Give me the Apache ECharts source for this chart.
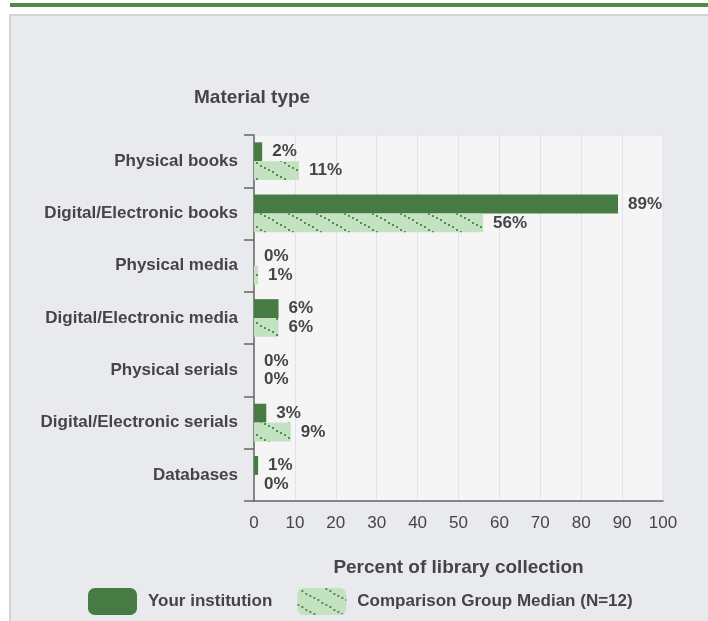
<!DOCTYPE html>
<html>
<head>
<meta charset="utf-8">
<style>
  html, body { margin: 0; padding: 0; background: #fff; }
  #main { width: 708px; height: 621px; }
</style>
<script src="https://cdn.jsdelivr.net/npm/echarts@6/dist/echarts.min.js"></script>
</head>
<body>
<div id="main"></div>
<script>
// 数据
const categories = [
  'Physical books',
  'Digital/Electronic books',
  'Physical media',
  'Digital/Electronic media',
  'Physical serials',
  'Digital/Electronic serials',
  'Databases'
]
const institutionValues = [2, 89, 0, 6, 0, 3, 1]
const comparisonValues = [11, 56, 1, 6, 0, 9, 0]
const xTicks = { min: 0, max: 100, interval: 10 }

const textColor = '#454545'
const fontFamily = '"Liberation Sans", Arial, sans-serif'

// 斜线点状填充
function makePattern() {
  const c = document.createElement('canvas')
  c.width = 28
  c.height = 16
  const ctx = c.getContext('2d')
  ctx.fillStyle = '#c4e2c2'
  ctx.fillRect(0, 0, 28, 16)
  ctx.fillStyle = '#4a9447'
  for (let x = 0; x < 28; x += 4) {
    const y = Math.round(x * 16 / 28)
    ctx.fillRect(x, y, 2, 2)
  }
  return c
}

const chart = echarts.init(document.getElementById('main'))
const option = {
  backgroundColor: '#fff',
  animation: false,
  textStyle: { fontFamily: fontFamily },
  graphic: [
    {
      type: 'rect',
      z: -10,
      silent: true,
      shape: { x: 10, y: 15, width: 710, height: 620 },
      style: { fill: '#e9eaee', stroke: '#d2d3d6', lineWidth: 2 }
    },
    {
      type: 'rect',
      z: -10,
      silent: true,
      shape: { x: 10, y: 3, width: 698, height: 4 },
      style: { fill: '#4e8a49' }
    }
  ],
  title: {
    text: 'Material type',
    left: 194,
    top: 88,
    padding: 0,
    textStyle: { fontSize: 19, fontWeight: 'bold', color: textColor, fontFamily: fontFamily }
  },
  legend: {
    left: 88,
    top: 588,
    padding: 0,
    itemWidth: 49,
    itemHeight: 27,
    itemGap: 25,
    icon: 'roundRect',
    textStyle: { fontSize: 17, fontWeight: 'bold', color: textColor, padding: [0, 0, 0, 6] },
    data: ['Your institution', 'Comparison Group Median (N=12)']
  },
  grid: {
    left: 254,
    right: 45,
    top: 135,
    bottom: 120,
    show: true,
    backgroundColor: '#f5f5f5',
    borderWidth: 1,
    borderColor: '#e2e5ec'
  },
  xAxis: {
    type: 'value',
    min: xTicks.min,
    max: xTicks.max,
    interval: xTicks.interval,
    name: 'Percent of library collection',
    nameLocation: 'middle',
    nameGap: 57,
    nameTextStyle: { fontSize: 19, fontWeight: 'bold', color: textColor },
    axisLine: { show: true, lineStyle: { color: '#666', width: 1.5 } },
    axisTick: { show: false },
    axisLabel: { margin: 14, fontSize: 17, color: textColor },
    splitLine: { show: true, lineStyle: { color: '#dce3f1', width: 1 } }
  },
  yAxis: {
    type: 'category',
    inverse: true,
    data: categories,
    axisLine: { show: true, lineStyle: { color: '#666', width: 1.5 } },
    axisTick: { show: true, length: 10, lineStyle: { color: '#666', width: 1.5 } },
    axisLabel: { margin: 16, fontSize: 17, fontWeight: 'bold', color: textColor },
    splitLine: { show: false }
  },
  series: [
    {
      name: 'Your institution',
      type: 'bar',
      barGap: '0%',
      barCategoryGap: '28%',
      itemStyle: { color: '#467c43' },
      label: {
        show: true,
        position: 'right',
        distance: 10,
        formatter: '{c}%',
        fontSize: 17,
        fontWeight: 'bold',
        color: textColor
      },
      data: institutionValues
    },
    {
      name: 'Comparison Group Median (N=12)',
      type: 'bar',
      barGap: '0%',
      barCategoryGap: '28%',
      itemStyle: { color: { image: makePattern(), repeat: 'repeat' } },
      label: {
        show: true,
        position: 'right',
        distance: 10,
        formatter: '{c}%',
        fontSize: 17,
        fontWeight: 'bold',
        color: textColor
      },
      data: comparisonValues
    }
  ]
}
chart.setOption(option)
</script>
</body>
</html>
